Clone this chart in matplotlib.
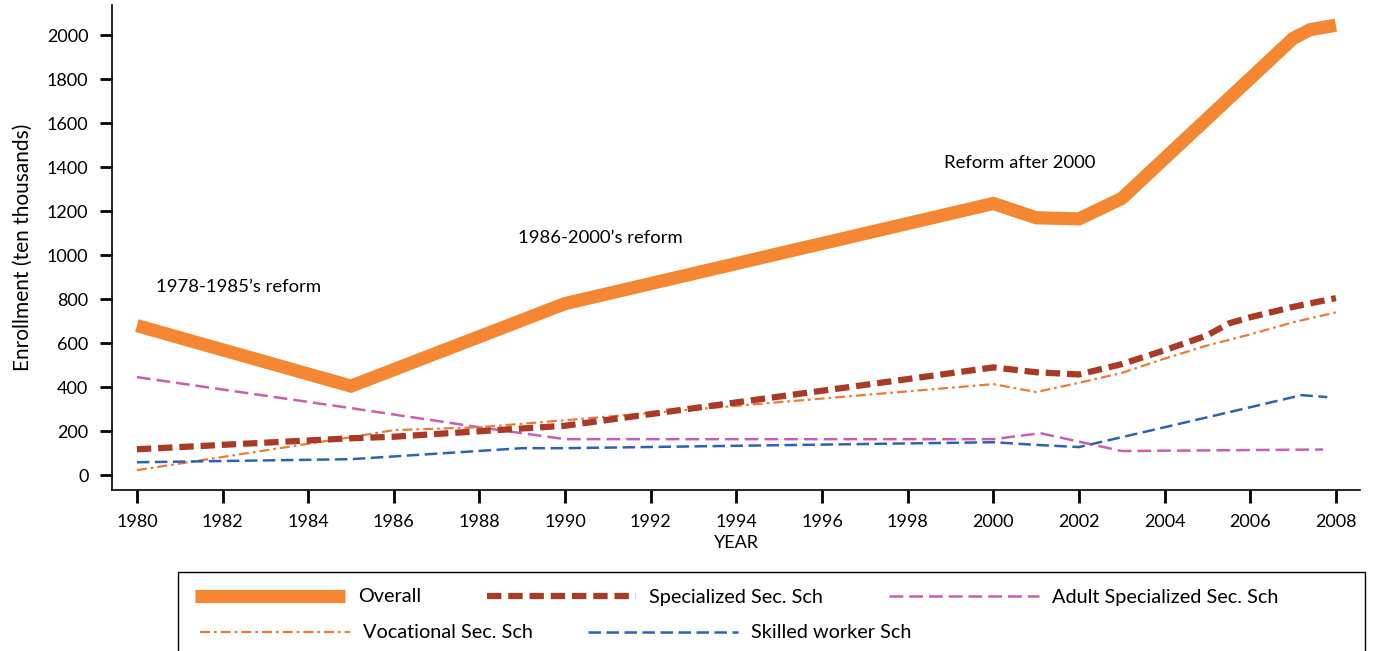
import matplotlib.pyplot as plt
from matplotlib.patches import Rectangle

plt.rcParams['font.family'] = ['Lato', 'DejaVu Sans']
plt.rcParams['font.size'] = 13

# enrollment data (ten thousands)
overall_years = [1980, 1985, 1990, 2000, 2001, 2002, 2003, 2007, 2007.4, 2008]
overall = [680, 405, 780, 1235, 1170, 1165, 1258, 1985, 2025, 2045]

spec_years = [1980, 1985, 1986, 1988, 1990, 2000, 2001, 2002, 2003, 2004, 2005, 2005.5, 2006, 2007, 2008]
specialized = [118, 168, 175, 200, 225, 490, 468, 458, 505, 568, 636, 690, 718, 765, 805]

voc_years = [1980, 1985, 1986, 1988, 1990, 2000, 2001, 2002, 2003, 2004, 2005, 2006, 2007, 2008]
vocational = [23, 173, 205, 218, 250, 414, 378, 420, 465, 530, 590, 640, 695, 740]

adult_years = [1980, 1985, 1988, 1990, 2000, 2001.1, 2003, 2007.7]
adult = [446, 305, 218, 164, 164, 191, 110, 117]

skilled_years = [1980, 1985, 1989, 1990, 2000, 2001, 2002, 2004, 2006, 2007.2, 2007.8]
skilled = [59, 73, 123, 123, 150, 138, 128, 218, 309, 364, 355]

fig = plt.figure(figsize=(13.75, 6.51), dpi=100)
ax = fig.add_axes([0.0815, 0.247, 0.9075, 0.745])

ax.plot(overall_years, overall, color='#F58733', lw=9.5, solid_joinstyle='miter',
        solid_capstyle='butt', label='Overall', zorder=5)
ax.plot(spec_years, specialized, color='#A93A26', lw=4.5, linestyle=(0, (2.3, 1.1)),
        dash_capstyle='butt', label='Specialized Sec. Sch', zorder=4)
ax.plot(adult_years, adult, color='#C95FAE', lw=1.8, linestyle=(0, (5.5, 2.4)),
        label='Adult Specialized Sec. Sch', zorder=3)
ax.plot(voc_years, vocational, color='#EE7A35', lw=1.6, linestyle=(0, (4.5, 1.8, 1.2, 1.8)),
        label='Vocational Sec. Sch', zorder=3)
ax.plot(skilled_years, skilled, color='#2E63B3', lw=1.8, linestyle=(0, (5, 2.2)),
        label='Skilled worker Sch', zorder=3)

ax.text(1980.45, 855, "1978-1985\u2019s reform", fontsize=13.3, va='center')
ax.text(1988.9, 1080, "1986-2000\u2019s reform", fontsize=13.3, va='center')
ax.text(1998.85, 1420, "Reform after 2000", fontsize=13.3, va='center')

ax.set_xlim(1979.42, 2008.56)
ax.set_ylim(-68, 2136)
ax.set_xticks(range(1980, 2009, 2))
ax.set_yticks(range(0, 2001, 200))
ax.spines['top'].set_visible(False)
ax.spines['right'].set_visible(False)
ax.spines['left'].set_linewidth(1.2)
ax.spines['bottom'].set_linewidth(1.2)
ax.tick_params(direction='out', length=9, width=2, labelsize=13)
ax.tick_params(axis='y', pad=8)
ax.tick_params(axis='x', pad=8)
ax.set_xlabel('YEAR', fontsize=13, labelpad=4)
ax.set_ylabel('Enrollment (ten thousands)', fontsize=15, labelpad=10)

# legend: two rows, drawn separately, inside one frame
h, l = ax.get_legend_handles_labels()
leg_kw = dict(frameon=False, borderpad=0, borderaxespad=0, handlelength=7.55,
              handletextpad=0.65, columnspacing=3.3, fontsize=14.3, loc='center left')
fig.legend(h[:3], l[:3], ncol=3, bbox_to_anchor=(195 / 1375, 1 - 597 / 651), **leg_kw)
fig.legend([h[3], h[4]], [l[3], l[4]], ncol=2, bbox_to_anchor=(200 / 1375, 1 - 633 / 651),
           **dict(leg_kw, columnspacing=2.8))
fig.patches.append(Rectangle((178 / 1375, -0.05), (1365 - 178) / 1375, 1 - 572 / 651 + 0.05,
                             transform=fig.transFigure, fill=False, edgecolor='black', lw=1))

plt.savefig('out.png', dpi=100)
